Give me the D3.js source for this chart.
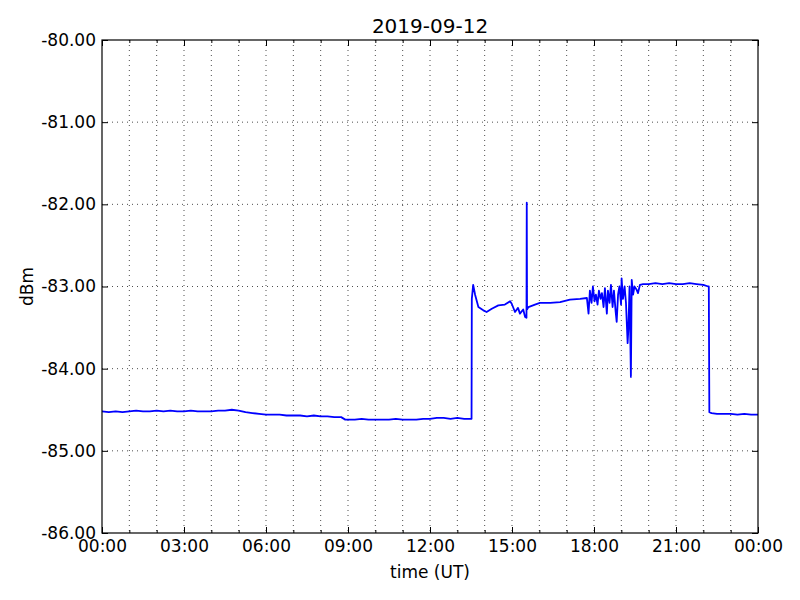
<!DOCTYPE html>
<html>
<head>
<meta charset="utf-8">
<script src="https://cdn.jsdelivr.net/npm/d3@7"></script>
<style>
  body { margin: 0; background: #fff; }
  svg { display: block; font-family: "DejaVu Sans", sans-serif; }
</style>
</head>
<body>
<svg id="chart" width="800" height="600"></svg>
<script>
// ---- data (hours UT, dBm) ----
const hours = [
  0, 0.25, 0.5, 0.75, 1.0, 1.25, 1.5, 1.75, 2.0, 2.25, 2.5, 2.75, 3.0, 3.25, 3.5, 3.75,
  4.0, 4.25, 4.5, 4.75, 5.0, 5.25, 5.5, 5.75, 6.0, 6.25, 6.5, 6.75, 7.0, 7.25, 7.5, 7.75,
  8.0, 8.25, 8.5, 8.75, 8.9, 9.0, 9.25, 9.5, 9.75, 10.0, 10.25, 10.5, 10.75, 11.0, 11.25,
  11.5, 11.75, 12.0, 12.25, 12.5, 12.75, 13.0, 13.25, 13.52,
  13.53, 13.58, 13.65, 13.77, 13.95, 14.07, 14.26, 14.5, 14.74, 14.93, 14.99, 15.11, 15.22,
  15.29, 15.41, 15.48, 15.53, 15.54, 15.55, 15.6, 15.84, 16.02, 16.4, 16.76, 17.12, 17.49,
  17.74, 17.80, 17.85, 17.91, 17.96, 18.02, 18.07, 18.13, 18.18, 18.24, 18.29, 18.35, 18.40,
  18.47, 18.51, 18.57, 18.62, 18.68, 18.73, 18.79, 18.83, 18.88, 18.93, 18.99, 19.01, 19.06,
  19.12, 19.17, 19.23, 19.26, 19.30, 19.35, 19.38, 19.43, 19.48, 19.56, 19.61, 19.68,
  19.8, 20.0, 20.25, 20.5, 20.75, 21.0, 21.25, 21.5, 21.75, 22.0, 22.18, 22.2,
  22.22, 22.3, 22.5, 22.75, 23.0, 23.25, 23.5, 23.75, 24.0
];
const dbm = [
  -84.52, -84.53, -84.52, -84.53, -84.52, -84.51, -84.52, -84.52, -84.51, -84.52, -84.51, -84.52, -84.52, -84.51, -84.52, -84.52,
  -84.52, -84.51, -84.51, -84.50, -84.51, -84.53, -84.54, -84.55, -84.56, -84.56, -84.56, -84.57, -84.57, -84.57, -84.58, -84.57,
  -84.58, -84.58, -84.59, -84.59, -84.62, -84.62, -84.62, -84.61, -84.62, -84.62, -84.62, -84.62, -84.61, -84.62, -84.62,
  -84.62, -84.61, -84.61, -84.60, -84.60, -84.61, -84.60, -84.61, -84.61,
  -83.15, -82.98, -83.10, -83.25, -83.29, -83.31, -83.27, -83.23, -83.22, -83.18, -83.21, -83.31, -83.26,
  -83.33, -83.28, -83.37, -83.38, -81.98, -83.28, -83.25, -83.22, -83.20, -83.20, -83.19, -83.16, -83.15,
  -83.14, -83.33, -83.05, -83.20, -83.00, -83.18, -83.10, -83.22, -83.05, -83.15, -83.08, -83.25, -83.02,
  -83.33, -83.05, -83.20, -82.98, -83.25, -83.05, -83.30, -83.43, -83.10, -83.00, -83.22, -82.90, -83.15,
  -83.00, -83.20, -83.69, -83.50, -83.00, -84.10, -82.92, -83.10, -83.00, -83.04, -83.08, -82.98,
  -82.97, -82.97, -82.96, -82.97, -82.96, -82.97, -82.97, -82.96, -82.97, -82.98, -83.00, -83.00,
  -84.53, -84.54, -84.55, -84.55, -84.55, -84.56, -84.55, -84.56, -84.56
];
const xTickValues = [0, 3, 6, 9, 12, 15, 18, 21, 24];
const xTickLabels = ["00:00", "03:00", "06:00", "09:00", "12:00", "15:00", "18:00", "21:00", "00:00"];
const yTickValues = [-86, -85, -84, -83, -82, -81, -80];
const yTickLabels = ["-86.00", "-85.00", "-84.00", "-83.00", "-82.00", "-81.00", "-80.00"];
const titleText = "2019-09-12";
const xLabel = "time (UT)";
const yLabel = "dBm";

// ---- layout ----
const L = 102, T = 40, W = 656, H = 493;
const svg = d3.select("#chart");
const x = d3.scaleLinear().domain([0, 24]).range([L, L + W]);
const y = d3.scaleLinear().domain([-86, -80]).range([T + H, T]);
const minorX = d3.range(0, 25, 1);

const g = svg.append("g");

// grid
g.append("g").selectAll("line").data(minorX.filter(d => d > 0 && d < 24)).join("line")
  .attr("x1", d => x(d)).attr("x2", d => x(d)).attr("y1", T).attr("y2", T + H)
  .attr("stroke", "#000").attr("stroke-width", 0.7).attr("stroke-dasharray", "1,4");
g.append("g").selectAll("line").data(yTickValues.filter(d => d > -86 && d < -80)).join("line")
  .attr("x1", L).attr("x2", L + W).attr("y1", d => y(d)).attr("y2", d => y(d))
  .attr("stroke", "#000").attr("stroke-width", 0.7).attr("stroke-dasharray", "1,4");

// data line
const line = d3.line().x((d, i) => x(hours[i])).y((d, i) => y(dbm[i]));
svg.append("path").datum(dbm).attr("d", line)
  .attr("fill", "none").attr("stroke", "#0000ff").attr("stroke-width", 1.8)
  .attr("stroke-linejoin", "round");

// axes with inward ticks
const fmtX = d => xTickLabels[xTickValues.indexOf(d)];
const fmtY = d => yTickLabels[yTickValues.indexOf(d)];
const axBottom = svg.append("g").attr("transform", `translate(0,${T + H})`)
  .call(d3.axisBottom(x).tickValues(xTickValues).tickFormat(fmtX).tickSizeInner(-6).tickSizeOuter(0).tickPadding(7));
svg.append("g").attr("transform", `translate(0,${T + H})`)
  .call(d3.axisBottom(x).tickValues(minorX).tickFormat("").tickSizeInner(-3).tickSizeOuter(0));
svg.append("g").attr("transform", `translate(0,${T})`)
  .call(d3.axisTop(x).tickValues(xTickValues).tickFormat("").tickSizeInner(-6).tickSizeOuter(0));
svg.append("g").attr("transform", `translate(0,${T})`)
  .call(d3.axisTop(x).tickValues(minorX).tickFormat("").tickSizeInner(-3).tickSizeOuter(0));
svg.append("g").attr("transform", `translate(${L},0)`)
  .call(d3.axisLeft(y).tickValues(yTickValues).tickFormat(fmtY).tickSizeInner(-6).tickSizeOuter(0).tickPadding(6));
svg.append("g").attr("transform", `translate(${L + W},0)`)
  .call(d3.axisRight(y).tickValues(yTickValues).tickFormat("").tickSizeInner(-6).tickSizeOuter(0));

svg.selectAll(".domain").remove();
svg.selectAll(".tick line").attr("stroke", "#000").attr("stroke-width", 1);
svg.selectAll(".tick text").attr("font-family", "DejaVu Sans").attr("font-size", 17).attr("fill", "#000");

// frame
svg.append("rect").attr("x", L).attr("y", T).attr("width", W).attr("height", H)
  .attr("fill", "none").attr("stroke", "#000").attr("stroke-width", 1.2);

// labels
svg.append("text").attr("x", L + W / 2).attr("y", 33).attr("text-anchor", "middle")
  .attr("font-size", 20).attr("fill", "#000").text(titleText);
svg.append("text").attr("x", L + W / 2).attr("y", 578).attr("text-anchor", "middle")
  .attr("font-size", 17).attr("fill", "#000").text(xLabel);
svg.append("text").attr("transform", `translate(33,${T + H / 2}) rotate(-90)`).attr("text-anchor", "middle")
  .attr("font-size", 17).attr("fill", "#000").text(yLabel);
</script>
</body>
</html>
